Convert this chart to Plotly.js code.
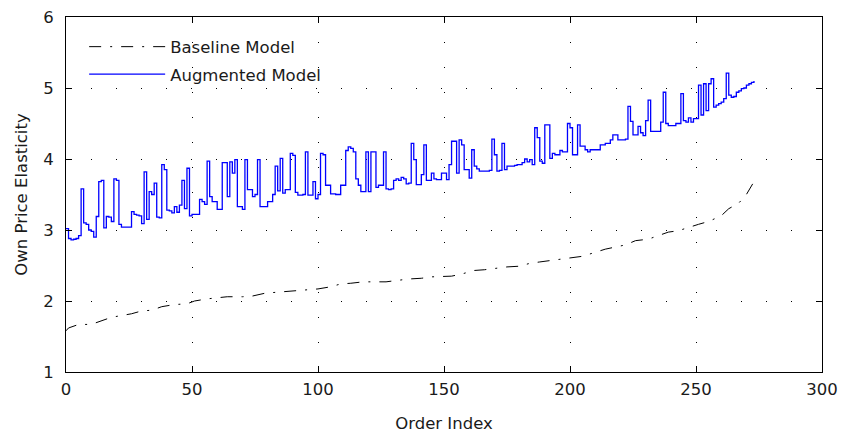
<!DOCTYPE html>
<html>
<head>
<meta charset="utf-8">
<script src="https://cdn.plot.ly/plotly-3.0.1.min.js"></script>
<style>html,body{margin:0;padding:0;background:#fff;}#chart{width:841px;height:436px;}</style>
</head>
<body>
<div id="chart"></div>
<script>
// Baseline model: knots (order index, elasticity)
const baselineIndex = [0, 1, 5, 10, 18, 22, 26, 30, 34, 38, 43, 48, 51, 56, 60, 64, 70, 74, 79, 82, 87, 91, 96, 100, 105, 109, 113, 118, 122, 127, 136, 141, 145, 149, 153, 157, 162, 166, 175, 180, 184, 188, 192, 200, 205, 214, 218, 222, 226, 231, 239, 243, 251, 255, 260, 263, 267, 270, 273];
const baselineValue = [1.58, 1.62, 1.67, 1.67, 1.77, 1.79, 1.82, 1.86, 1.87, 1.92, 1.95, 1.96, 2.00, 2.03, 2.04, 2.06, 2.06, 2.07, 2.11, 2.12, 2.13, 2.15, 2.16, 2.17, 2.20, 2.24, 2.25, 2.27, 2.27, 2.27, 2.31, 2.32, 2.34, 2.35, 2.35, 2.38, 2.43, 2.44, 2.48, 2.49, 2.53, 2.55, 2.57, 2.60, 2.63, 2.73, 2.76, 2.79, 2.85, 2.87, 2.97, 2.99, 3.08, 3.12, 3.20, 3.30, 3.38, 3.50, 3.68];

// Augmented model: one value per order index 0..273
const augmentedValue = [
  3.02, 2.88, 2.86, 2.87, 2.88, 2.92, 3.58, 3.10, 3.08, 3.00,
  2.98, 2.90, 3.19, 3.68, 3.70, 3.03, 3.19, 3.18, 3.12, 3.72,
  3.70, 3.08, 3.04, 3.04, 3.04, 3.04, 3.26, 3.22, 3.21, 3.20,
  3.09, 3.82, 3.15, 3.54, 3.50, 3.66, 3.18, 3.17, 3.92, 3.85,
  3.28, 3.27, 3.24, 3.33, 3.25, 3.35, 3.70, 3.30, 3.87, 3.20,
  3.22, 3.22, 3.22, 3.43, 3.40, 3.36, 3.97, 3.47, 3.40, 3.40,
  3.29, 3.29, 3.95, 3.95, 3.47, 3.96, 3.80, 3.99, 3.33, 3.33,
  3.29, 3.99, 3.57, 3.57, 3.47, 3.50, 3.99, 3.33, 3.33, 3.33,
  3.40, 3.40, 3.50, 3.90, 3.55, 4.01, 3.52, 3.57, 3.57, 4.08,
  4.05, 3.53, 3.49, 3.49, 3.50, 4.10, 3.49, 3.49, 3.68, 3.44,
  3.50, 4.08, 4.06, 3.63, 3.63, 3.51, 3.51, 3.50, 3.50, 3.63,
  3.63, 4.12, 4.17, 4.15, 4.10, 3.72, 3.63, 3.54, 3.54, 4.10,
  3.54, 4.10, 4.10, 3.60, 3.63, 3.63, 4.10, 3.58, 3.57, 3.58,
  3.70, 3.72, 3.70, 3.74, 3.72, 3.65, 3.66, 4.22, 3.99, 3.64,
  3.64, 3.78, 4.20, 3.70, 3.70, 3.80, 3.72, 3.71, 3.71, 3.80,
  3.80, 3.71, 3.92, 4.25, 4.25, 3.80, 4.27, 4.20, 3.85, 3.85,
  3.73, 4.13, 3.90, 3.86, 3.83, 3.83, 3.83, 3.83, 3.84, 4.28,
  4.06, 3.83, 3.84, 4.22, 3.85, 3.90, 3.90, 3.90, 3.91, 3.92,
  3.92, 3.95, 4.00, 3.96, 3.99, 3.92, 4.44, 4.30, 3.97, 3.94,
  4.48, 4.48, 4.01, 4.08, 4.06, 4.06, 4.12, 4.10, 4.10, 4.50,
  4.44, 4.06, 4.06, 4.48, 4.18, 4.18, 4.13, 4.10, 4.13, 4.13,
  4.13, 4.13, 4.20, 4.20, 4.22, 4.22, 4.27, 4.34, 4.34, 4.27,
  4.27, 4.27, 4.28, 4.74, 4.53, 4.34, 4.34, 4.46, 4.37, 4.33,
  4.54, 4.83, 4.39, 4.39, 4.39, 4.39, 4.52, 4.94, 4.50, 4.47,
  4.47, 4.47, 4.50, 4.50, 4.92, 4.54, 4.52, 4.58, 4.52, 4.57,
  4.57, 5.04, 4.62, 5.06, 4.68, 5.06, 5.13, 4.73, 4.76, 4.78,
  4.80, 4.85, 5.21, 4.90, 4.87, 4.88, 4.94, 4.96, 4.99, 5.00,
  5.04, 5.06, 5.08, 5.10
];

const xTicks = [0, 50, 100, 150, 200, 250, 300];
const yTicks = [1, 2, 3, 4, 5, 6];

const font = {family: 'DejaVu Sans, sans-serif', size: 16.5, color: '#1a1a1a'};

const traces = [
  {
    x: baselineIndex, y: baselineValue, type: 'scatter', mode: 'lines',
    name: 'Baseline Model', legendgroup: 'base',
    line: {color: '#000', width: 1, dash: '12px,9px,2px,9px'}
  },
  {
    y: augmentedValue, type: 'scatter', mode: 'lines',
    name: 'Augmented Model', legendgroup: 'aug',
    line: {color: '#0000ff', width: 1.3, shape: 'hv'}
  }
];

const axisCommon = {
  showline: true, linecolor: '#000', linewidth: 1, mirror: 'ticks',
  ticks: 'inside', ticklen: 6, tickcolor: '#000',
  showgrid: true, gridcolor: '#000', gridwidth: 1, griddash: '1px,24px',
  zeroline: false, tickfont: font
};

const layout = {
  width: 841, height: 436,
  margin: {l: 66, r: 19, t: 17, b: 64},
  paper_bgcolor: '#fff', plot_bgcolor: '#fff',
  font: font,
  showlegend: true,
  legend: {
    x: 0.024, y: 0.965, xanchor: 'left', yanchor: 'top',
    bgcolor: 'rgba(0,0,0,0)', borderwidth: 0,
    font: font, itemwidth: 76, traceorder: 'grouped', tracegroupgap: 3
  },
  xaxis: Object.assign({}, axisCommon, {
    range: [0, 300], tickvals: xTicks, ticktext: xTicks.map(String),
    ticklabelstandoff: 2,
    title: {text: 'Order Index', font: font, standoff: 19}
  }),
  yaxis: Object.assign({}, axisCommon, {
    range: [1, 6], tickvals: yTicks, ticktext: yTicks.map(String),
    ticklabelstandoff: 8,
    title: {text: 'Own Price Elasticity', font: font, standoff: 11}
  })
};

Plotly.newPlot('chart', traces, layout, {displayModeBar: false, staticPlot: true});
</script>
</body>
</html>
